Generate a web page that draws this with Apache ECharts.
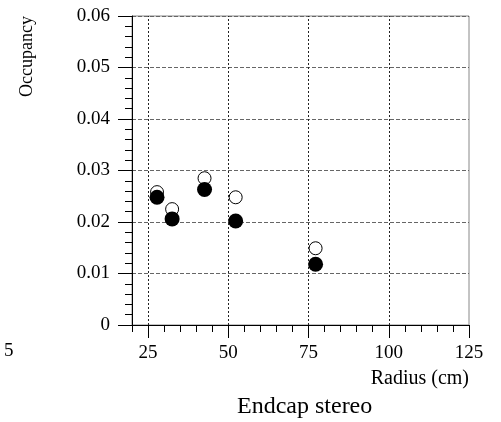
<!DOCTYPE html>
<html><head><meta charset="utf-8">
<script src="https://cdn.jsdelivr.net/npm/echarts@6/dist/echarts.min.js"></script>
<style>html,body{margin:0;padding:0;background:#fff}#c{width:501px;height:422px}</style>
</head><body><div id="c"></div>
<script>
const radius = [27.8, 32.5, 42.6, 52.3, 77.2];
const openOcc = [0.0258, 0.0225, 0.0285, 0.0248, 0.0149];
const filledOcc = [0.0248, 0.0206, 0.0263, 0.0202, 0.0118];
const xMajor = [25, 50, 75, 100, 125];
const xGrid = [25, 50, 75, 100];
const FONT = 'Liberation Serif';

const chart = echarts.init(document.getElementById('c'), null, {renderer: 'canvas'});
chart.setOption({
  animation: false,
  textStyle: {fontFamily: FONT},
  grid: {left: 132, right: 32, top: 16, bottom: 97, show: true, borderColor: '#888', borderWidth: 1},
  xAxis: [{
    type: 'value', min: 20, max: 125, interval: 5,
    axisLine: {lineStyle: {color: '#000', width: 1}},
    axisTick: {length: 7, lineStyle: {color: '#000'}},
    splitLine: {show: false},
    axisLabel: {margin: 19, color: '#000', fontFamily: FONT, fontSize: 19,
      formatter: v => (v % 25 === 0 ? String(v) : '')}
  }, {
    type: 'value', min: 20, max: 125, position: 'bottom',
    axisLine: {show: false},
    axisTick: {show: true, length: 13, customValues: xMajor, lineStyle: {color: '#000'}},
    axisLabel: {show: false},
    splitLine: {show: false}
  }],
  yAxis: {
    type: 'value', min: 0, max: 0.06, interval: 0.01,
    axisLine: {show: true, lineStyle: {color: '#000'}},
    axisTick: {length: 14, lineStyle: {color: '#000'}},
    minorTick: {show: true, splitNumber: 5, length: 7, lineStyle: {color: '#000'}},
    splitLine: {show: true, lineStyle: {color: '#666', type: [4, 2], width: 1}},
    axisLabel: {margin: 22, color: '#000', fontFamily: FONT, fontSize: 19,
      formatter: v => (v === 0 ? '0' : v.toFixed(2))}
  },
  graphic: [
    {type: 'text', left: 18, top: 16, rotation: Math.PI / 2,
      style: {text: 'Occupancy', font: '18px "Liberation Serif"', fill: '#000'}},
    {type: 'text', right: 32, top: 369, style: {text: 'Radius (cm)', font: '20px "Liberation Serif"', fill: '#000'}},
    {type: 'text', left: 237, top: 395, style: {text: 'Endcap stereo', font: '24px "Liberation Serif"', fill: '#000'}},
    {type: 'text', left: 4, top: 342, style: {text: '5', font: '19px "Liberation Serif"', fill: '#000'}}
  ],
  series: [{
    type: 'scatter', name: 'open', symbol: 'circle', symbolSize: 13,
    itemStyle: {color: '#fff', borderColor: '#000', borderWidth: 1, opacity: 1},
    data: radius.map((r, i) => [r, openOcc[i]]),
    markLine: {
      silent: true, symbol: 'none', label: {show: false},
      lineStyle: {color: '#222', type: [2, 2], width: 1},
      data: xGrid.map(v => ({xAxis: v}))
    },
    z: 3
  }, {
    type: 'scatter', name: 'filled', symbol: 'circle', symbolSize: 15,
    itemStyle: {color: '#000', opacity: 1},
    data: radius.map((r, i) => [r, filledOcc[i]]),
    z: 4
  }]
});
</script></body></html>
